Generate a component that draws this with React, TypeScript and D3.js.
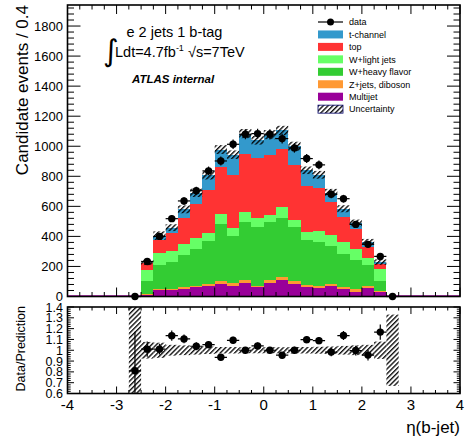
import React from 'react';
import * as d3 from 'd3';

// ---- data ----
const binCenters = [-2.625, -2.375, -2.125, -1.875, -1.625, -1.375, -1.125, -0.875, -0.625, -0.375, -0.125,
  0.125, 0.375, 0.625, 0.875, 1.125, 1.375, 1.625, 1.875, 2.125, 2.375, 2.625];
const binWidth = 0.25;

const multijet = [0, 12, 40, 40, 51, 62, 67, 80, 69, 93, 62, 89, 113, 80, 62, 58, 67, 49, 33, 58, 30, 0];
const zjets = [0, 3, 11, 11, 11, 11, 13, 22, 20, 14, 11, 18, 20, 20, 16, 15, 13, 13, 16, 11, 6, 0];
const wheavy = [0, 87, 159, 178, 217, 245, 289, 380, 316, 389, 392, 389, 391, 362, 295, 289, 253, 222, 191, 138, 69, 0];
const wlight = [0, 76, 79, 71, 72, 72, 53, 65, 53, 66, 55, 49, 72, 45, 56, 71, 74, 78, 78, 51, 75, 0];
const topq = [0, 42, 87, 122, 173, 223, 285, 315, 349, 389, 405, 395, 384, 366, 304, 289, 222, 167, 129, 71, 38, 0];
const tchan = [0, 6, 29, 36, 56, 77, 100, 116, 137, 133, 115, 137, 125, 127, 107, 88, 63, 55, 43, 36, 11, 0];
const dataCounts = [0, 233, 400, 518, 636, 704, 836, 902, 1013, 1080, 1084, 1080, 1051, 989, 918, 876, 680, 651, 480, 347, 267, 0];
const uncRel = [0, 0.075, 0.07, 0.05, 0.045, 0.04, 0.035, 0.03, 0.03, 0.028, 0.028, 0.028, 0.028, 0.03, 0.03, 0.032, 0.035, 0.04, 0.045, 0.05, 0.08, 0];

const ratioVals: (number | null)[] = [0.81, 1.01, 1.01, 1.135, 1.105, 1.037, 1.052, 0.935, 1.092, 1.0, 1.04, 1.0, 0.954, 1.0, 1.098, 1.089, 0.983, 1.136, 0.997, 0.955, 1.168, null];
const ratioErr = [0.36, 0.07, 0.05, 0.047, 0.04, 0.036, 0.034, 0.031, 0.032, 0.03, 0.031, 0.03, 0.03, 0.032, 0.033, 0.034, 0.038, 0.042, 0.045, 0.05, 0.07, 0];
const ratioUnc = [0.5, 0.077, 0.07, 0.05, 0.045, 0.04, 0.035, 0.03, 0.03, 0.028, 0.028, 0.028, 0.028, 0.03, 0.03, 0.032, 0.035, 0.04, 0.045, 0.05, 0.08, 0.33];

const seriesKeys = ['multijet', 'zjets', 'wheavy', 'wlight', 'top', 'tchan'];
const seriesValues: Record<string, number[]> = { multijet, zjets, wheavy, wlight, top: topq, tchan };
const seriesColors: Record<string, string> = {
  multijet: '#990099', zjets: '#ff9933', wheavy: '#33cc33', wlight: '#66ff66', top: '#ff3333', tchan: '#3399cc',
};
const legendEntries = [
  { label: 'data', kind: 'data' },
  { label: 't-channel', kind: 'tchan' },
  { label: 'top', kind: 'top' },
  { label: 'W+light jets', kind: 'wlight' },
  { label: 'W+heavy flavor', kind: 'wheavy' },
  { label: 'Z+jets, diboson', kind: 'zjets' },
  { label: 'Multijet', kind: 'multijet' },
  { label: 'Uncertainty', kind: 'unc' },
];

const xTicks = [-4, -3, -2, -1, 0, 1, 2, 3, 4];
const yTicks = [0, 200, 400, 600, 800, 1000, 1200, 1400, 1600, 1800];
const rTicks = [0.6, 0.7, 0.8, 0.9, 1, 1.1, 1.2, 1.3, 1.4];

const FONT = '"Liberation Sans", Arial, Helvetica, sans-serif';

export default function App() {
  const L = 67.5, R = 460;
  const x = d3.scaleLinear().domain([-4, 4]).range([L, R]);
  const y = d3.scaleLinear().domain([0, 1940]).range([296.5, 5]);
  const yr = d3.scaleLinear().domain([0.6, 1.4]).range([393.5, 307]);
  const mainTop = 5, mainBot = 296.5;
  const rTop = 307, rBot = 393.5;

  const rows = binCenters.map((c, i) => {
    const r: any = { c };
    seriesKeys.forEach(k => { r[k] = seriesValues[k][i]; });
    return r;
  });
  const stacked = d3.stack<any>().keys(seriesKeys)(rows);
  const totals = rows.map(r => seriesKeys.reduce((s, k) => s + r[k], 0));

  const xMinor = d3.range(-4, 4.0001, 0.25);
  const yMinor = d3.range(0, 1940, 40);
  const rMinor = d3.range(0.6, 1.4001, 0.02);

  const bx0 = (c: number) => x(c - binWidth / 2);
  const bx1 = (c: number) => x(c + binWidth / 2);

  return (
    <svg width={468} height={443} style={{ position: 'absolute', left: 0, top: 0, background: '#fff' }}
      fontFamily={FONT}>
      <defs>
        <pattern id="hatch" width={3.4} height={3.4} patternUnits="userSpaceOnUse" patternTransform="rotate(45)">
          <line x1={0.7} y1={0} x2={0.7} y2={3.4} stroke="#000" strokeWidth={1.3} />
        </pattern>
        <clipPath id="clipMain"><rect x={L} y={mainTop} width={R - L} height={mainBot - mainTop} /></clipPath>
        <clipPath id="clipRatio"><rect x={L} y={rTop} width={R - L} height={rBot - rTop} /></clipPath>
      </defs>
      <rect x={0} y={0} width={468} height={443} fill="#fff" />

      {/* ---------- main pad ---------- */}
      <g clipPath="url(#clipMain)">
        <line x1={L} x2={R} y1={y(0) - 0.5} y2={y(0) - 0.5} stroke="#990099" strokeWidth={1.5} />
        {stacked.map(layer => (
          <g key={layer.key} fill={seriesColors[layer.key]} shapeRendering="crispEdges">
            {layer.map((d, i) => (d[1] - d[0] > 0 ? (
              <rect key={i} x={bx0(binCenters[i])} width={bx1(binCenters[i]) - bx0(binCenters[i])}
                y={y(d[1])} height={y(d[0]) - y(d[1])} />
            ) : null))}
          </g>
        ))}
        {totals.map((t, i) => (t > 0 ? (
          <rect key={i} x={bx0(binCenters[i])} width={bx1(binCenters[i]) - bx0(binCenters[i])}
            y={y(t * (1 + uncRel[i]))} height={y(t * (1 - uncRel[i])) - y(t * (1 + uncRel[i]))}
            fill="url(#hatch)" />
        ) : null))}
      </g>
      {/* data */}
      <g stroke="#000" strokeWidth={1.2}>
        {dataCounts.map((d, i) => {
          const c = binCenters[i];
          const e = Math.sqrt(d);
          return (
            <g key={i}>
              <line x1={bx0(c)} x2={bx1(c)} y1={y(d)} y2={y(d)} />
              {e > 0 && <line x1={x(c)} x2={x(c)} y1={y(d + e)} y2={y(d - e)} />}
              <circle cx={x(c)} cy={y(d)} r={3.7} fill="#000" stroke="none" />
            </g>
          );
        })}
      </g>

      {/* main ticks */}
      <g stroke="#000" strokeWidth={1}>
        {xMinor.map((v, i) => {
          const major = Math.abs(v - Math.round(v)) < 1e-6;
          const len = major ? 9 : 4.5;
          return (
            <g key={i}>
              <line x1={x(v)} x2={x(v)} y1={mainBot} y2={mainBot - len} />
              <line x1={x(v)} x2={x(v)} y1={mainTop} y2={mainTop + len} />
            </g>
          );
        })}
        {yMinor.map((v, i) => {
          const major = v % 200 === 0;
          const len = major ? 13 : 6.5;
          return (
            <g key={i}>
              <line x1={L} x2={L + len} y1={y(v)} y2={y(v)} />
              <line x1={R} x2={R - len} y1={y(v)} y2={y(v)} />
            </g>
          );
        })}
      </g>
      <rect x={L} y={mainTop} width={R - L} height={mainBot - mainTop} fill="none" stroke="#000" strokeWidth={1.6} />
      <g fontSize={13} textAnchor="end">
        {yTicks.map(v => (
          <text key={v} x={63} y={y(v) + 4.6}>{v}</text>
        ))}
      </g>
      <text transform={`translate(28,5) rotate(-90)`} textAnchor="end" fontSize={17}>Candidate events / 0.4</text>

      {/* annotation */}
      <text x={103} y={61} fontSize={30} fontFamily='"DejaVu Sans", sans-serif'>∫</text>
      <text x={126.5} y={37} fontSize={14.5}>e 2 jets 1 b-tag</text>
      <text x={115} y={57} fontSize={14.5}>
        Ldt=4.7fb<tspan fontSize={9} dy={-6}>-1</tspan><tspan dy={6}> √s=7TeV</tspan>
      </text>
      <text x={132} y={83} fontSize={11.5} fontWeight="bold" fontStyle="italic">ATLAS internal</text>

      {/* legend */}
      {legendEntries.map((e, i) => {
        const cy = 22 + i * 12.45;
        return (
          <g key={e.label}>
            {e.kind === 'data' ? (
              <g>
                <line x1={318} x2={343} y1={cy} y2={cy} stroke="#000" strokeWidth={1.2} />
                <circle cx={330.5} cy={cy} r={3.5} fill="#000" />
              </g>
            ) : e.kind === 'unc' ? (
              <rect x={318} y={cy - 4} width={25} height={8} fill="url(#hatch)" stroke="#000066" strokeWidth={0.8} />
            ) : (
              <rect x={318} y={cy - 4} width={25} height={8} fill={seriesColors[e.kind]} />
            )}
            <text x={349} y={cy + 3.3} fontSize={9}>{e.label}</text>
          </g>
        );
      })}

      {/* ---------- ratio pad ---------- */}
      <g clipPath="url(#clipRatio)">
        {ratioUnc.map((u, i) => (
          <rect key={i} x={bx0(binCenters[i])} width={bx1(binCenters[i]) - bx0(binCenters[i])}
            y={yr(1 + u)} height={yr(1 - u) - yr(1 + u)} fill="url(#hatch)" />
        ))}
        <g stroke="#000" strokeWidth={1.2}>
          {ratioVals.map((r, i) => {
            if (r === null) return null;
            const c = binCenters[i];
            return (
              <g key={i}>
                <line x1={bx0(c)} x2={bx1(c)} y1={yr(r)} y2={yr(r)} />
                <line x1={x(c)} x2={x(c)} y1={yr(r + ratioErr[i])} y2={yr(r - ratioErr[i])} />
                <circle cx={x(c)} cy={yr(r)} r={3.7} fill="#000" stroke="none" />
              </g>
            );
          })}
        </g>
      </g>
      <g stroke="#000" strokeWidth={1}>
        {xMinor.map((v, i) => {
          const major = Math.abs(v - Math.round(v)) < 1e-6;
          const len = major ? 7 : 3.5;
          return (
            <g key={i}>
              <line x1={x(v)} x2={x(v)} y1={rBot} y2={rBot - len} />
              <line x1={x(v)} x2={x(v)} y1={rTop} y2={rTop + len} />
            </g>
          );
        })}
        {rMinor.map((v, i) => {
          const major = Math.abs(v * 10 - Math.round(v * 10)) < 1e-6;
          const len = major ? 6.5 : 3.2;
          return (
            <g key={i}>
              <line x1={L} x2={L + len} y1={yr(v)} y2={yr(v)} />
              <line x1={R} x2={R - len} y1={yr(v)} y2={yr(v)} />
            </g>
          );
        })}
      </g>
      <rect x={L} y={rTop} width={R - L} height={rBot - rTop} fill="none" stroke="#000" strokeWidth={1.6} />
      <g fontSize={12.5} textAnchor="end">
        {rTicks.map(v => (
          <text key={v} x={63} y={yr(v) + 4.5}>{String(Math.round(v * 10) / 10)}</text>
        ))}
      </g>
      <g fontSize={15} textAnchor="middle">
        {xTicks.map(v => (
          <text key={v} x={x(v)} y={410}>{String(v)}</text>
        ))}
      </g>
      <text transform={`translate(25,306) rotate(-90)`} textAnchor="end" fontSize={12.5}>Data/Prediction</text>
      <text x={460} y={433} textAnchor="end" fontSize={17}>η(b-jet)</text>
    </svg>
  );
}
